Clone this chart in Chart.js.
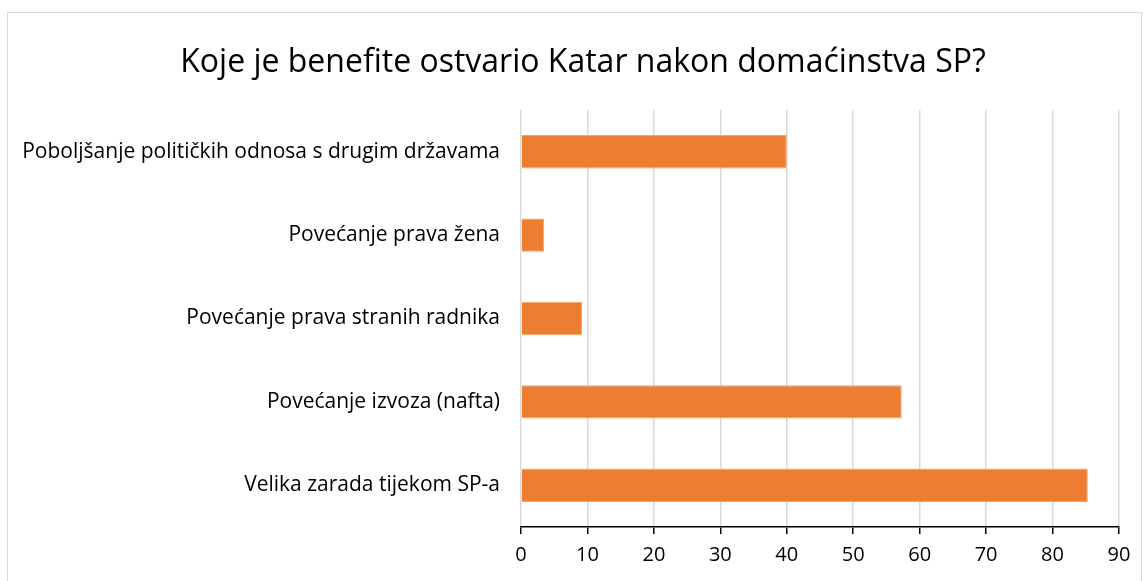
<!DOCTYPE html>
<html>
<head>
<meta charset="utf-8">
<script src="https://cdn.jsdelivr.net/npm/chart.js@4.4.0/dist/chart.umd.min.js"></script>
<style>
  html, body { margin: 0; padding: 0; background: #fff; }
  #frame { position: absolute; left: 7px; top: 12px; width: 1135px; height: 580px; border: 1px solid #d9d9d9; box-sizing: border-box; }
  #wrap { position: absolute; left: 0; top: 0; width: 1146px; height: 581px; }
</style>
</head>
<body>
<div id="frame"></div>
<div id="wrap"><canvas id="chart"></canvas></div>
<script>
// podaci
const categories = [
    'Poboljšanje političkih odnosa s drugim državama',
    'Povećanje prava žena',
    'Povećanje prava stranih radnika',
    'Povećanje izvoza (nafta)',
    'Velika zarada tijekom SP-a'
];
const values = [40, 3.5, 9.2, 57.3, 85.3];
const xTicks = [0, 10, 20, 30, 40, 50, 60, 70, 80, 90];
const chartTitle = 'Koje je benefite ostvario Katar nakon domaćinstva SP?';

const fontFamily = '"Open Sans", sans-serif';

// naslov iznad grafikona, malo desno od sredine kao u originalu
const titlePlugin = {
    id: 'naslov',
    afterDraw(chart) {
        const ctx = chart.ctx;
        ctx.save();
        ctx.font = `32px ${fontFamily}`;
        ctx.fillStyle = '#000';
        ctx.textAlign = 'center';
        ctx.textBaseline = 'middle';
        ctx.fillText(chartTitle, 583, 63);
        ctx.restore();
    }
};

new Chart(document.getElementById('chart'), {
    type: 'bar',
    data: {
        labels: categories,
        datasets: [{
            data: values,
            backgroundColor: '#ed7d31',
            borderColor: '#f4a46c',
            borderWidth: 1,
            barPercentage: 0.4,
            categoryPercentage: 1
        }]
    },
    options: {
        indexAxis: 'y',
        responsive: true,
        maintainAspectRatio: false,
        animation: false,
        layout: { padding: { left: 0, right: 27, top: 110, bottom: 0 } },
        plugins: {
            legend: { display: false },
            tooltip: { enabled: false },
            title: { display: false }
        },
        scales: {
            x: {
                min: 0,
                max: 90,
                afterBuildTicks: axis => { axis.ticks = xTicks.map(v => ({ value: v })); },
                afterFit: axis => { axis.height = 54; },
                grid: { color: '#d9d9d9', lineWidth: 1.5, tickColor: '#000', tickLength: 7 },
                border: { display: true, color: '#000', width: 1.5 },
                ticks: { color: '#000', padding: 9, font: { family: fontFamily, size: 20 } }
            },
            y: {
                afterFit: axis => { axis.width = 521; },
                grid: { display: false, drawTicks: false },
                border: { display: false },
                ticks: { color: '#000', padding: 21, font: { family: fontFamily, size: 21 } }
            }
        }
    },
    plugins: [titlePlugin]
});
</script>
</body>
</html>
